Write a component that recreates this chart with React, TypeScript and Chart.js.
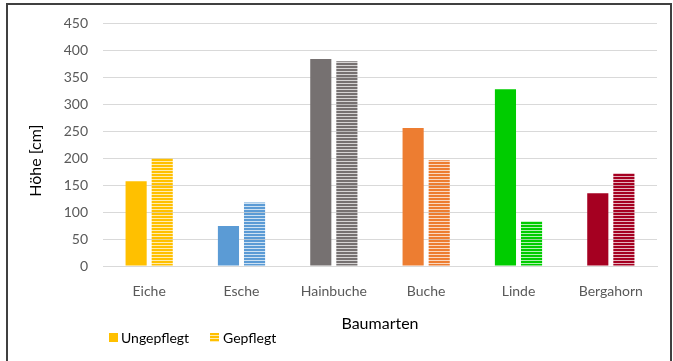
import { useEffect, useRef } from "react";
import { Chart, registerables } from "chart.js";

Chart.register(...registerables);

// Tree species on the category axis
const categories = ["Eiche", "Esche", "Hainbuche", "Buche", "Linde", "Bergahorn"];

// Height in cm per species
const ungepflegt = [157, 74, 384, 256, 328, 135];
const gepflegt = [200, 118, 380, 196, 83, 172];

// One colour per species, shared by both series
const speciesColors = ["#FFC000", "#5B9BD5", "#767171", "#ED7D31", "#00CC00", "#A50021"];

const seriesNames = ["Ungepflegt", "Gepflegt"];
const yAxisTitle = "Höhe [cm]";
const xAxisTitle = "Baumarten";

const FONT = "Lato, 'Open Sans', sans-serif";

function rgba(hex: string, a: number) {
  const n = parseInt(hex.slice(1), 16);
  return `rgba(${(n >> 16) & 255}, ${(n >> 8) & 255}, ${n & 255}, ${a})`;
}

// Narrow horizontal stripes for the "Gepflegt" bars
function stripes(color: string): CanvasPattern {
  const c = document.createElement("canvas");
  c.width = 4;
  c.height = 3;
  const ctx = c.getContext("2d")!;
  ctx.fillStyle = color;
  ctx.fillRect(0, 0, 4, 2);
  ctx.fillStyle = rgba(color, 0.3);
  ctx.fillRect(0, 2, 4, 1);
  return ctx.createPattern(c, "repeat")!;
}

// Rotated value-axis title, sitting a little below the middle of the plot
const yTitlePlugin = {
  id: "yTitle",
  afterDraw(chart: any) {
    const { ctx, chartArea, scales } = chart;
    const x = scales.y.left + 12;
    const y = (chartArea.top + chartArea.bottom) / 2 + 16;
    ctx.save();
    ctx.translate(x, y);
    ctx.rotate(-Math.PI / 2);
    ctx.font = `16px ${FONT}`;
    ctx.fillStyle = "#000000";
    ctx.textAlign = "center";
    ctx.textBaseline = "middle";
    ctx.fillText(yAxisTitle, 0, 0);
    ctx.restore();
  },
};

export default function App() {
  const canvasRef = useRef<HTMLCanvasElement | null>(null);

  useEffect(() => {
    const canvas = canvasRef.current;
    if (!canvas) return;

    const chart = new Chart(canvas, {
      type: "bar",
      data: {
        labels: categories,
        datasets: [
          {
            label: seriesNames[0],
            data: ungepflegt,
            backgroundColor: speciesColors,
            borderWidth: 0,
            categoryPercentage: 0.565,
            barPercentage: 0.81,
          },
          {
            label: seriesNames[1],
            data: gepflegt,
            backgroundColor: speciesColors.map(stripes),
            borderWidth: 0,
            categoryPercentage: 0.565,
            barPercentage: 0.81,
          },
        ],
      },
      options: {
        responsive: false,
        animation: false,
        devicePixelRatio: 1,
        layout: { padding: { left: 24, right: 16, top: 22, bottom: 28 } },
        plugins: {
          legend: { display: false },
          tooltip: { enabled: false },
        },
        scales: {
          x: {
            grid: { display: false, drawTicks: false },
            border: { display: true, color: "#D9D9D9", width: 1 },
            ticks: {
              color: "#595959",
              font: { family: FONT, size: 14 },
              padding: 17,
              maxRotation: 0,
            },
            title: {
              display: true,
              text: xAxisTitle,
              color: "#000000",
              font: { family: FONT, size: 16 },
              padding: { top: 0, bottom: 0 },
            },
            afterFit: (scale: any) => {
              scale.height = 67;
            },
          },
          y: {
            min: 0,
            max: 450,
            grid: { color: "#D9D9D9", lineWidth: 1, drawTicks: false },
            border: { display: false },
            ticks: {
              stepSize: 50,
              color: "#595959",
              font: { family: FONT, size: 14 },
              padding: 15,
            },
            afterFit: (scale: any) => {
              scale.width = 79;
            },
          },
        },
      },
      plugins: [yTitlePlugin],
    });

    return () => chart.destroy();
  }, []);

  const legendText: React.CSSProperties = {
    fontFamily: FONT,
    fontSize: 14,
    color: "#000000",
    lineHeight: "17px",
    whiteSpace: "nowrap",
  };

  return (
    <div style={{ position: "fixed", left: 0, top: 0, width: 673, height: 361, background: "#ffffff", overflow: "hidden" }}>
      <canvas ref={canvasRef} width={673} height={361} style={{ display: "block", width: 673, height: 361 }} />
      <div
        style={{
          position: "absolute",
          left: 6,
          top: 3,
          width: 666,
          height: 372,
          boxSizing: "border-box",
          border: "2px solid #404040",
          pointerEvents: "none",
        }}
      />
      <div style={{ position: "absolute", left: 109, top: 329, height: 17, display: "flex", alignItems: "center" }}>
        <span style={{ width: 9, height: 9, background: speciesColors[0], display: "inline-block" }} />
        <span style={{ ...legendText, marginLeft: 3 }}>{seriesNames[0]}</span>
      </div>
      <div style={{ position: "absolute", left: 210, top: 329, height: 17, display: "flex", alignItems: "center" }}>
        <span
          style={{
            width: 9,
            height: 9,
            display: "inline-block",
            background: `repeating-linear-gradient(to bottom, ${speciesColors[0]} 0px, ${speciesColors[0]} 2px, ${rgba(speciesColors[0], 0.3)} 2px, ${rgba(speciesColors[0], 0.3)} 3px)`,
          }}
        />
        <span style={{ ...legendText, marginLeft: 4 }}>{seriesNames[1]}</span>
      </div>
    </div>
  );
}
